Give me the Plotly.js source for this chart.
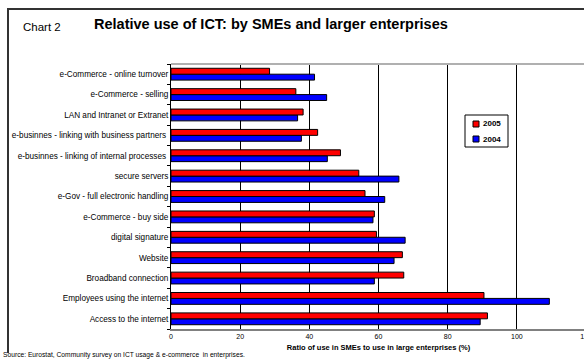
<!DOCTYPE html>
<html>
<head>
<meta charset="utf-8">
<script src="https://cdn.plot.ly/plotly-3.0.1.min.js"></script>
<style>
html,body{margin:0;padding:0;overflow:hidden;background:#fff;}
#wrap{position:relative;width:592px;height:360px;}
#chart{width:592px;height:360px;}
#frame{position:absolute;left:7px;top:8px;width:620px;height:343px;
  border-left:2px solid #333;border-top:2px solid #333;pointer-events:none;}
</style>
</head>
<body>
<div id="wrap"><div id="chart"></div><div id="frame"></div></div>
<script>
// Categories listed bottom to top
const categories = [
  "Access to the internet",
  "Employees using the internet",
  "Broadband connection",
  "Website",
  "digital signature",
  "e-Commerce - buy side",
  "e-Gov - full electronic handling",
  "secure servers",
  "e-businnes - linking of internal processes ",
  "e-businnes - linking with business partners ",
  "LAN and Intranet or Extranet",
  "e-Commerce - selling",
  "e-Commerce - online turnover"
];
const values2005 = [91.5, 90.5, 67.3, 66.9, 59.4, 58.8, 56.1, 54.3, 49.0, 42.4, 38.2, 36.1, 28.5];
const values2004 = [89.4, 109.4, 58.8, 64.5, 67.7, 58.4, 61.8, 65.9, 45.2, 37.7, 36.6, 45.0, 41.5];
const xTicks = [0, 20, 40, 60, 80, 100, 120];
const seriesNames = ["2005", "2004"];
const seriesColors = ["#FF0000", "#0000FF"];

const FONT = "Liberation Sans, Arial, sans-serif";
const W = 592, H = 360, ML = 171, MR = 6, MT = 64, MB = 31;
const PW = W - ML - MR, PH = H - MT - MB;
const px = x => (x - ML) / PW;
const py = y => (H - MB - y) / PH;

const traces = [
  {type: "bar", orientation: "h", name: seriesNames[1], y: categories, x: values2004,
   marker: {color: seriesColors[1], line: {color: "#000", width: 1}}},
  {type: "bar", orientation: "h", name: seriesNames[0], y: categories, x: values2005,
   marker: {color: seriesColors[0], line: {color: "#000", width: 1}}}
];

// custom compact legend (box + swatches + labels)
const LX = 465, LY = 115, LW = 43, LH = 32;
const legendShapes = [
  {type: "rect", xref: "paper", yref: "paper",
   x0: px(LX), x1: px(LX + LW), y0: py(LY + LH), y1: py(LY),
   line: {color: "#000", width: 1}, fillcolor: "#fff"}
];
const legendAnn = [];
seriesNames.forEach((n, i) => {
  const cy = LY + 9 + i * 15;
  legendShapes.push({type: "rect", xref: "paper", yref: "paper",
    x0: px(LX + 8), x1: px(LX + 14), y0: py(cy + 3), y1: py(cy - 3),
    line: {color: "#000", width: 1}, fillcolor: seriesColors[i]});
  legendAnn.push({text: "<b>" + n + "</b>", xref: "paper", yref: "paper",
    x: px(LX + 16), y: py(cy), xanchor: "left", yanchor: "middle", showarrow: false,
    font: {family: FONT, size: 8, color: "#000"}});
});

const layout = {
  width: W, height: H,
  margin: {l: ML, r: MR, t: MT, b: MB, pad: 0},
  paper_bgcolor: "#fff", plot_bgcolor: "#fff",
  font: {family: FONT, color: "#000", size: 8},
  barmode: "group",
  bargap: 0.42,
  bargroupgap: 0,
  showlegend: false,
  title: {
    text: "<b>Relative use of ICT: by SMEs and larger enterprises</b>",
    xref: "container", yref: "container",
    x: 94 / W, y: 1 - 24 / H, xanchor: "left", yanchor: "middle",
    font: {family: FONT, size: 14.5, color: "#000"}
  },
  xaxis: {
    range: [0, 120],
    tickvals: xTicks,
    ticktext: xTicks.map(String),
    showgrid: true, gridcolor: "#000", gridwidth: 1,
    zeroline: false,
    showline: true, linecolor: "#808080", linewidth: 2,
    ticks: "",
    tickfont: {family: FONT, size: 7, color: "#000"},
    title: {
      text: "<b>Ratio of use in SMEs to use in large enterprises (%)</b>",
      font: {family: FONT, size: 7.5, color: "#000"},
      standoff: 5
    },
    fixedrange: true
  },
  yaxis: {
    type: "category",
    categoryorder: "array", categoryarray: categories,
    showgrid: false, zeroline: false,
    showline: true, linecolor: "#000", linewidth: 1,
    ticks: "outside", ticklen: 3, tickcolor: "#000", tickson: "boundaries",
    tickfont: {family: FONT, size: 8.2, color: "#000"},
    fixedrange: true
  },
  shapes: [
    {type: "line", xref: "paper", yref: "paper",
     x0: 0, x1: 1, y0: 1, y1: 1,
     line: {color: "#b0b0b0", width: 2}}
  ].concat(legendShapes),
  annotations: [
    {text: "Chart 2", xref: "paper", yref: "paper", x: px(21), y: py(27),
     xanchor: "left", yanchor: "middle", showarrow: false,
     font: {family: FONT, size: 11.5, color: "#000"}},
    {text: "Source: Eurostat, Community survey on ICT usage &amp; e-commerce  in enterprises.",
     xref: "paper", yref: "paper", x: px(1), y: py(355),
     xanchor: "left", yanchor: "middle", showarrow: false,
     font: {family: FONT, size: 6.7, color: "#000"}}
  ].concat(legendAnn)
};

Plotly.newPlot("chart", traces, layout, {staticPlot: true, displayModeBar: false});
</script>
</body>
</html>
